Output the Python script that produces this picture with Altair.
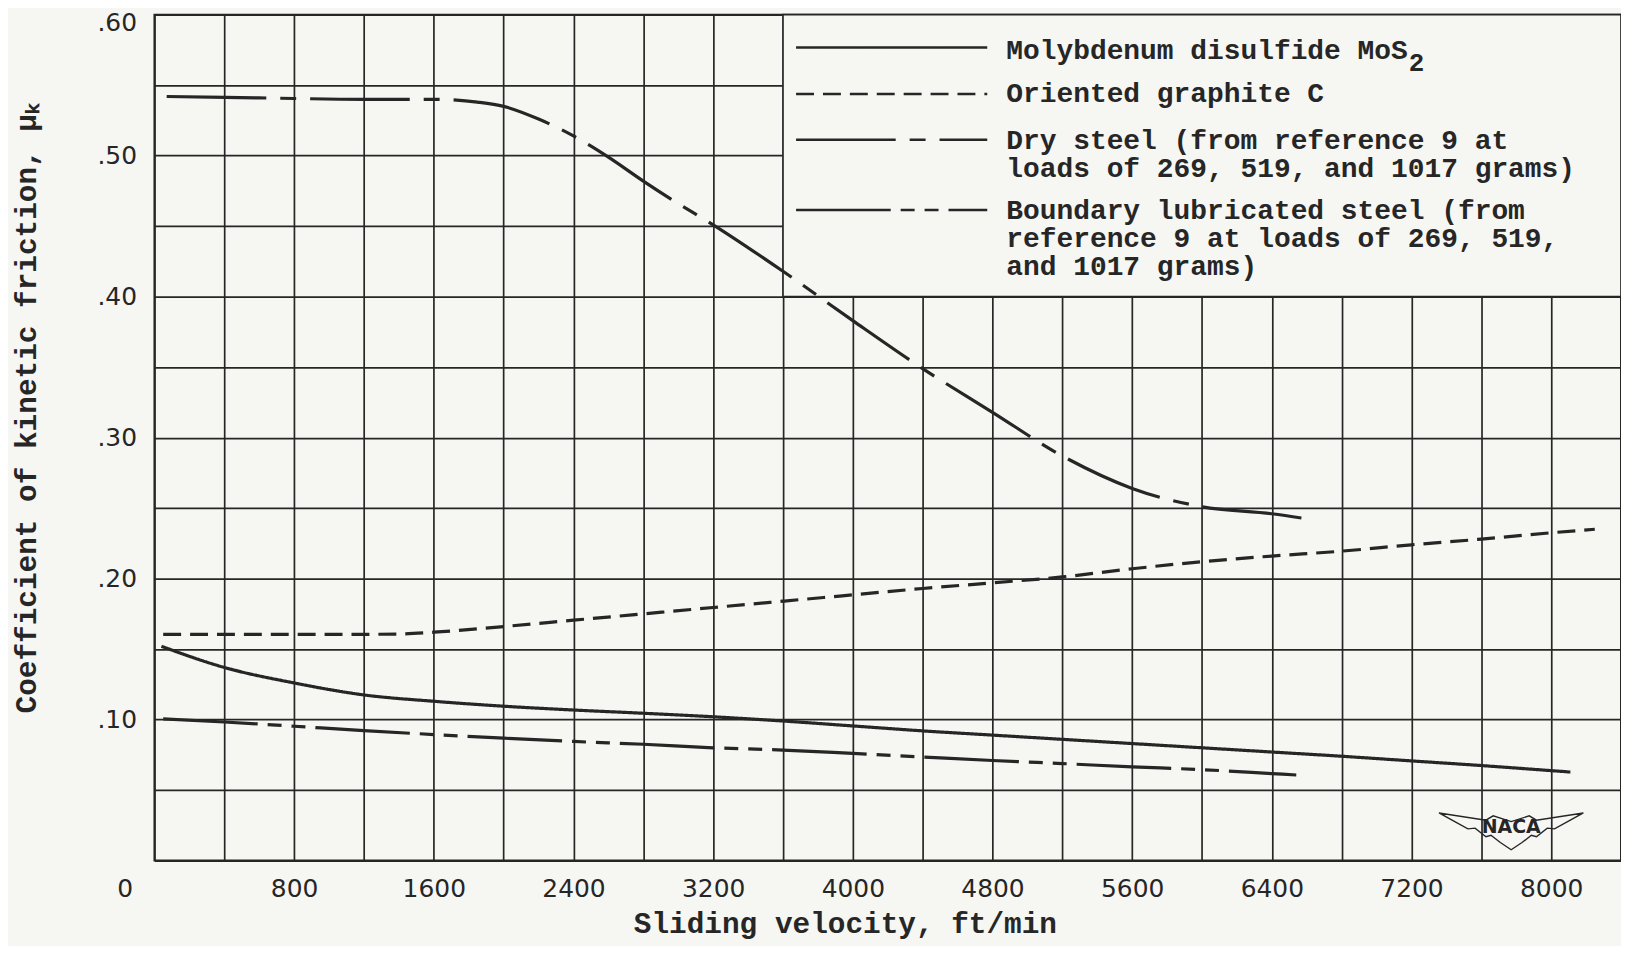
import altair as alt
import pandas as pd

# ---------------- data ----------------
series_names = [
    "Molybdenum disulfide MoS2",
    "Oriented graphite C",
    "Dry steel",
    "Boundary lubricated steel",
]

mos2_v = [40, 400, 800, 1200, 1600, 2000, 2400, 2800, 3200, 3600, 4000, 4400,
          4800, 5200, 5600, 6000, 6400, 6800, 7200, 7600, 8000, 8110]
mos2_mu = [0.152, 0.137, 0.126, 0.1175, 0.113, 0.1095, 0.1068, 0.1045, 0.102,
           0.099, 0.0955, 0.092, 0.089, 0.086, 0.083, 0.080, 0.077, 0.074,
           0.0707, 0.0674, 0.0638, 0.0628]

graphite_v = [50, 400, 800, 1200, 1400, 1600, 2000, 2400, 2800, 3200, 3600,
              4000, 4400, 4800, 5200, 5600, 6000, 6400, 6800, 7200, 7600,
              8000, 8250]
graphite_mu = [0.1605, 0.1605, 0.1605, 0.1605, 0.1607, 0.162, 0.166, 0.1705,
               0.175, 0.1795, 0.184, 0.1885, 0.193, 0.197, 0.2012, 0.207,
               0.212, 0.216, 0.2195, 0.224, 0.228, 0.2325, 0.235]

dry_v = [70, 600, 1200, 1600, 1850, 2000, 2200, 2400, 2600, 2800, 3000, 3200,
         3600, 4000, 4400, 4800, 5200, 5600, 6000, 6400, 6620]
dry_mu = [0.542, 0.541, 0.540, 0.540, 0.538, 0.535, 0.526, 0.514, 0.499,
          0.482, 0.466, 0.451, 0.418, 0.383, 0.349, 0.318, 0.287, 0.264,
          0.251, 0.246, 0.242]

lub_v = [50, 400, 800, 1200, 1600, 2000, 2400, 2800, 3200, 3600, 4000, 4400,
         4800, 5200, 5600, 6000, 6400, 6540]
lub_mu = [0.1005, 0.0983, 0.0953, 0.0922, 0.0894, 0.0868, 0.0845, 0.0825,
          0.080, 0.0784, 0.076, 0.0735, 0.071, 0.0688, 0.0665, 0.0645,
          0.0617, 0.0607]

dash_patterns = [[1, 0], [18, 9], [100, 14, 16, 14], [95, 10, 14, 10, 14, 10]]

# legend entries (sample lines and text lines, placed in data units)
legend_line_x = [3675, 4770]
legend_line_mu = [0.5767, 0.5438, 0.5113, 0.4615]
legend_text_x = 4879
legend_text = [
    "Molybdenum disulfide MoS",
    "Oriented graphite C",
    "Dry steel (from reference 9 at",
    "loads of 269, 519, and 1017 grams)",
    "Boundary lubricated steel (from",
    "reference 9 at loads of 269, 519,",
    "and 1017 grams)",
]
legend_text_mu = [0.5739, 0.5435, 0.5102, 0.4904, 0.4609, 0.4411, 0.4213]
subscript_text = ["2"]
subscript_x = [7185]
subscript_mu = [0.5655]
legend_box = {"x": 3600, "x2": 8400, "y": 0.40, "y2": 0.60}

logo_v = 7771
logo_mu = [0.0215, 0.0235]

x_ticks = list(range(0, 8401, 400))
y_ticks = [round(k * 0.05, 2) for k in range(13)]

# ---------------- styling ----------------
BG = "#f6f6f3"
INK = "#262626"
MONO = "Liberation Mono"
SANS = "DejaVu Sans"

curves = pd.concat([
    pd.DataFrame({"v": mos2_v, "mu": mos2_mu, "s": series_names[0]}),
    pd.DataFrame({"v": graphite_v, "mu": graphite_mu, "s": series_names[1]}),
    pd.DataFrame({"v": dry_v, "mu": dry_mu, "s": series_names[2]}),
    pd.DataFrame({"v": lub_v, "mu": lub_mu, "s": series_names[3]}),
], ignore_index=True)

leg_lines = pd.DataFrame({
    "v": [legend_line_x[0]] * 4,
    "v2": [legend_line_x[1]] * 4,
    "mu": legend_line_mu,
    "s": series_names,
})
leg_text = pd.DataFrame({
    "v": [legend_text_x] * len(legend_text),
    "mu": legend_text_mu,
    "t": legend_text,
})
sub_text = pd.DataFrame({"v": subscript_x, "mu": subscript_mu, "t": subscript_text})
box = pd.DataFrame([legend_box])
logo = pd.DataFrame({"v": [logo_v], "mu": [logo_mu[0]], "t": ["NACA"]})
logo_t = pd.DataFrame({"v": [logo_v], "mu": [logo_mu[1]], "t": ["NACA"]})

x_scale = alt.Scale(domain=[0, 8400], nice=False, zero=False)
y_scale = alt.Scale(domain=[0, 0.6], nice=False, zero=False)

x_axis = alt.Axis(
    values=x_ticks, grid=True, gridColor=INK, gridWidth=1.7, gridOpacity=1,
    domain=False, ticks=False, tickSize=0,
    labelExpr="datum.value % 800 == 0 && datum.value < 8400 ? format(datum.value, 'd') : ''",
    labelFont=SANS, labelFontSize=25, labelColor=INK, labelPadding=28,
    labelBaseline="middle", labelOverlap=False, labelFlush=False, labelBound=False,
    labelOffset={"condition": {"test": "datum.value == 0", "value": -30}, "value": 0},
    title="Sliding velocity, ft/min", titleFont=MONO, titleFontSize=29.5,
    titleFontWeight="bold", titleColor=INK, titleX=693, titleY=63,
    titleBaseline="middle", titleAlign="center",
)
y_axis = alt.Axis(
    values=y_ticks, grid=True, gridColor=INK, gridWidth=1.7, gridOpacity=1,
    domain=False, ticks=False, tickSize=0,
    labelExpr="datum.value > 0 && round(datum.value * 100) % 10 == 0 ? replace(format(datum.value, '.2f'), '0.', '.') : ''",
    labelFont=SANS, labelFontSize=25, labelColor=INK, labelPadding=18,
    labelBaseline="middle", labelOverlap=False, labelBound=False, labelFlush=False,
    labelOffset={"condition": {"test": "datum.value > 0.59", "value": 8}, "value": 0},
    title="Coefficient of kinetic friction, \u03bc\u2096", titleFont=MONO,
    titleFontSize=29.5, titleFontWeight="bold", titleColor=INK,
    titleX=-128, titleY=395, titleAngle=-90, titleBaseline="middle",
    titleAlign="center",
)


def X(field):
    return alt.X(field, type="quantitative", scale=x_scale, axis=x_axis)


def Y(field):
    return alt.Y(field, type="quantitative", scale=y_scale, axis=y_axis)


dash_enc = alt.StrokeDash(
    "s:N", scale=alt.Scale(domain=series_names, range=dash_patterns), legend=None
)

box_layer = alt.Chart(box).mark_rect(fill=BG, stroke=INK, strokeWidth=1.7).encode(
    x=X("x"), x2="x2", y=Y("y"), y2="y2"
)

curve_layer = alt.Chart(curves).mark_line(
    color=INK, strokeWidth=3.2, interpolate="monotone", strokeCap="butt"
).encode(x=X("v"), y=Y("mu"), detail="s:N", strokeDash=dash_enc)

leg_line_layer = alt.Chart(leg_lines).mark_rule(
    color=INK, strokeWidth=2.6, strokeCap="butt"
).encode(x=X("v"), x2="v2", y=Y("mu"), strokeDash=dash_enc)

leg_text_layer = alt.Chart(leg_text).mark_text(
    align="left", baseline="middle", font=MONO, fontSize=28,
    fontWeight="bold", color=INK
).encode(x=X("v"), y=Y("mu"), text="t:N")

sub_layer = alt.Chart(sub_text).mark_text(
    align="left", baseline="middle", font=MONO, fontSize=26,
    fontWeight="bold", color=INK
).encode(x=X("v"), y=Y("mu"), text="t:N")

wing_path = ("M-1,-0.24 L-0.35,-0.14 L-0.25,-0.2 L0,-0.12 L0.25,-0.2 L0.35,-0.14 "
             "L1,-0.24 L0.8,-0.13 L0.6,-0.02 L0.5,-0.03 L0.35,0.09 L0.28,0.07 "
             "L0.15,0.17 L0,0.27 L-0.15,0.17 L-0.28,0.07 L-0.35,0.09 L-0.5,-0.03 "
             "L-0.6,-0.02 L-0.8,-0.13 Z")
logo_wings = alt.Chart(logo).mark_point(
    shape=wing_path, size=21000, filled=False, color=INK, strokeWidth=1.4, opacity=1
).encode(x=X("v"), y=Y("mu"))
logo_text = alt.Chart(logo_t).mark_text(
    font=SANS, fontSize=19, fontWeight="bold", color=INK, baseline="middle",
    align="center"
).encode(x=X("v"), y=Y("mu"), text="t:N")

chart = alt.layer(
    box_layer, curve_layer, leg_line_layer, leg_text_layer, sub_layer,
    logo_wings, logo_text
).properties(
    width=1472, height=849,
    padding={"left": 147, "top": 5, "right": 0, "bottom": 84},
    autosize=alt.AutoSizeParams(type="none"),
    background=BG,
).configure_view(stroke=INK, strokeWidth=2)

chart.save("out.html", embed_options={"renderer": "svg", "actions": False})
